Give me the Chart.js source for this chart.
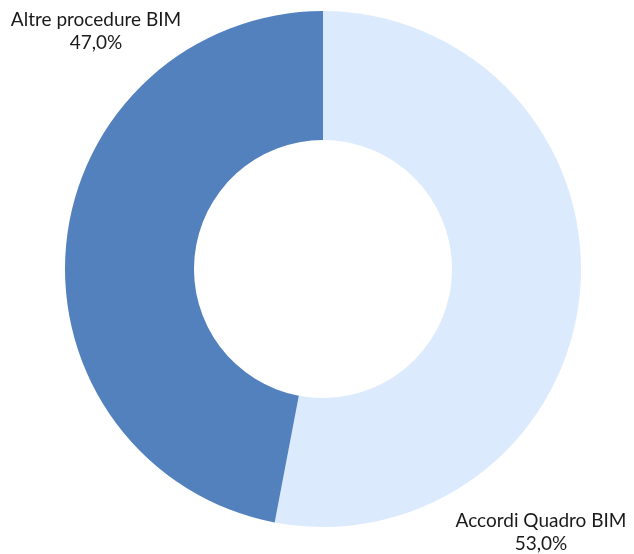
<!DOCTYPE html>
<html>
<head>
<meta charset="utf-8">
<script src="https://cdn.jsdelivr.net/npm/chart.js@4/dist/chart.umd.min.js"></script>
<style>
  html, body { margin: 0; padding: 0; background: #ffffff; }
  #wrap { width: 634px; height: 554px; position: relative; }
</style>
</head>
<body>
<div id="wrap"><canvas id="bimChart"></canvas></div>
<script>
// Ripartizione delle procedure BIM
const categories = ['Accordi Quadro BIM', 'Altre procedure BIM'];
const shares = [53.0, 47.0];
const sliceColors = ['#dbeafc', '#5381bd'];

// Posizione delle etichette (centro del blocco di testo)
const labelPos = [
    { x: 541, y: 521 },
    { x: 96, y: 20 }
];

const fmt = v => v.toFixed(1).replace('.', ',') + '%';

const sliceLabels = {
    id: 'sliceLabels',
    afterDraw(chart) {
        const ctx = chart.ctx;
        ctx.save();
        ctx.font = '19px Lato, "DejaVu Sans", sans-serif';
        ctx.fillStyle = '#1a1a1a';
        ctx.textAlign = 'center';
        ctx.textBaseline = 'middle';
        categories.forEach((name, i) => {
            const p = labelPos[i];
            ctx.fillText(name, p.x, p.y);
            ctx.fillText(fmt(shares[i]), p.x, p.y + 23);
        });
        ctx.restore();
    }
};

new Chart(document.getElementById('bimChart').getContext('2d'), {
    type: 'doughnut',
    data: {
        labels: categories,
        datasets: [{
            data: shares,
            backgroundColor: sliceColors,
            borderWidth: 0
        }]
    },
    options: {
        responsive: true,
        maintainAspectRatio: false,
        animation: false,
        cutout: '50%',
        layout: {
            padding: { top: 11, bottom: 27, left: 65, right: 53 }
        },
        plugins: {
            legend: { display: false },
            tooltip: { enabled: false }
        }
    },
    plugins: [sliceLabels]
});
</script>
</body>
</html>
